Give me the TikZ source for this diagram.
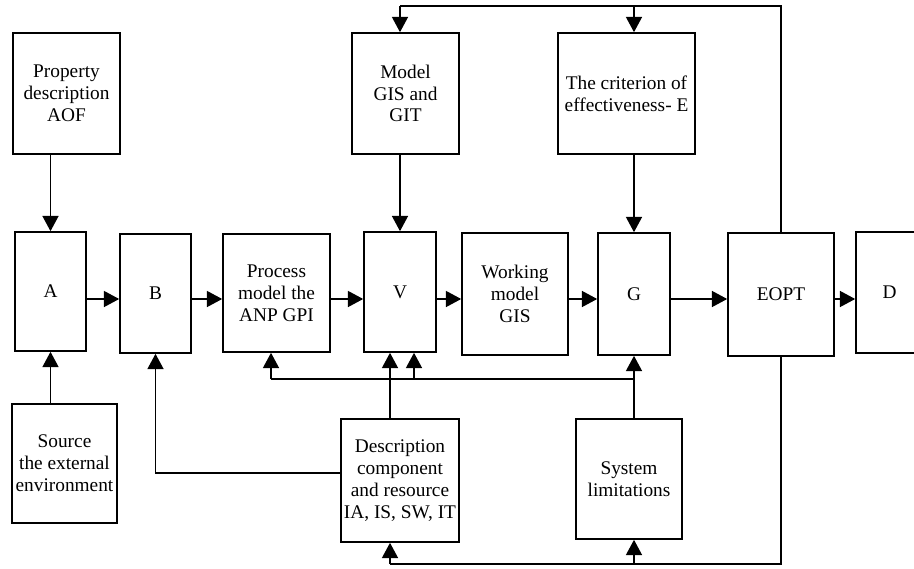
\documentclass[tikz,border=0pt]{standalone}
\usepackage{fontspec}
\setmainfont{Liberation Serif}
\usetikzlibrary{arrows.meta}
\tikzset{
  box/.style={draw, line width=1.2pt, inner sep=1pt, align=center, font=\fontsize{14.5}{16.4}\selectfont},
  conn/.style={line width=1.3pt},
  arr/.style={conn, -{Triangle[length=11.5pt,width=12pt]}},
}
\newcommand{\bx}[6]{\node[box, minimum width={(#4-#2)*0.75pt}, minimum height={(#5-#3)*0.75pt}] (#1) at ({(#2+#4)/2},{(#3+#5)/2}) {#6};}
\begin{document}
\begin{tikzpicture}[x=0.75pt,y=-0.75pt]
\clip (0,0) rectangle (914,568);
\fill[white] (0,0) rectangle (914,568);
% boxes
\bx{prop}{13}{33}{120}{154}{Property\\description\\AOF}
\bx{A}{15}{232}{86}{351}{A}
\bx{src}{12}{404}{117}{523}{Source\\the external\\environment}
\bx{B}{120}{234}{191}{353}{B}
\bx{proc}{223}{234}{330}{352}{Process\\model the\\ANP GPI}
\bx{V}{364}{232}{436}{352}{V}
\bx{gis}{352}{33}{459}{154}{Model\\GIS and\\GIT}
\bx{work}{462}{233}{568}{355}{Working\\model\\GIS}
\bx{G}{598}{233}{670}{355}{G}
\bx{crit}{558}{33}{695}{154}{The criterion of\\effectiveness- E}
\bx{EOPT}{728}{233}{834}{356}{EOPT}
\bx{D}{856}{232}{950}{353}{\hspace*{-20pt}D}
\bx{desc}{341}{419}{459}{542}{Description\\component\\and resource\\IA, IS, SW, IT}
\bx{sys}{576}{419}{682}{539}{System\\limitations}
% helper coordinates
\coordinate (row) at (0,299);
\coordinate (top) at (0,6);
\coordinate (bot) at (0,564);
\coordinate (bus) at (0,379);
\coordinate (left) at (0,473);
\coordinate (px) at (271,0);
\coordinate (vx) at (414,0);
\coordinate (dx) at (390,0);
% main chain
\draw[arr] (A.east |- row) -- (B.west |- row);
\draw[arr] (B.east |- row) -- (proc.west |- row);
\draw[arr] (proc.east |- row) -- (V.west |- row);
\draw[arr] (V.east |- row) -- (work.west |- row);
\draw[arr] (work.east |- row) -- (G.west |- row);
\draw[arr] (G.east |- row) -- (EOPT.west |- row);
\draw[arr] (EOPT.east |- row) -- (D.west |- row);
% inputs from above/below
\draw[arr] (A.north |- prop.south) -- (A.north);
\draw[arr] (A.south |- src.north) -- (A.south);
\draw[arr] (V.north |- gis.south) -- (V.north);
\draw[arr] (G.north |- crit.south) -- (G.north);
% feedback on top
\draw[conn] (EOPT.north) -- (EOPT.north |- top) -- (V.north |- top);
\draw[arr] (V.north |- top) -- (V.north |- gis.north);
\draw[arr] (G.north |- top) -- (G.north |- crit.north);
% feedback at bottom
\draw[conn] (EOPT.south) -- (EOPT.south |- bot) -- (dx |- bot);
\draw[arr] (dx |- bot) -- (dx |- desc.south);
\draw[arr] (G.south |- bot) -- (G.south |- sys.south);
% description links
\draw[arr] (dx |- desc.north) -- (dx |- V.south);
\draw[arr] (desc.west |- left) -| (B.south);
% system limitations links
\draw[arr] (G.south |- sys.north) -- (G.south);
\draw[conn] (G.south |- bus) -- (px |- bus);
\draw[arr] (px |- bus) -- (px |- proc.south);
\draw[arr] (vx |- bus) -- (vx |- V.south);
\end{tikzpicture}
\end{document}
